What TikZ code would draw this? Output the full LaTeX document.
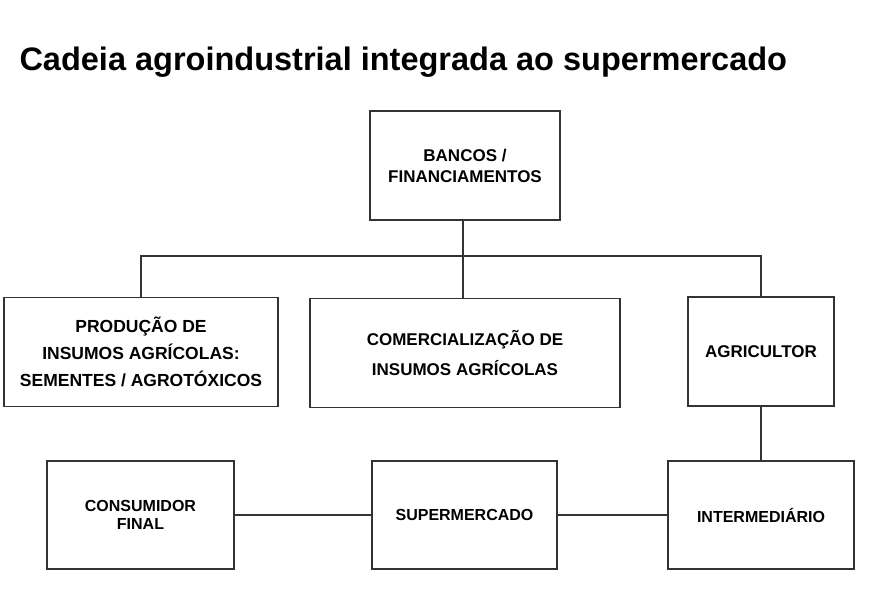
\documentclass[tikz,border=0pt]{standalone}
\usepackage{fontspec}
\setmainfont{Liberation Sans}
\begin{document}
\begin{tikzpicture}[x=1pt,y=-1pt,
  box/.style={draw=black!80,line width=1.3pt,align=center,font=\bfseries\fontsize{17}{21}\selectfont,inner sep=0pt},
  ln/.style={draw=black!80,line width=1.3pt}]
\useasboundingbox[fill=white] (0,0) rectangle (872,594);
\node[font=\bfseries\fontsize{32.5}{38}\selectfont,anchor=west] (t) at (16,62) {Cadeia agroindustrial integrada ao supermercado};
\node[box,minimum width=190pt,minimum height=109pt] (b) at (465,165.5) {BANCOS /\\FINANCIAMENTOS};
\node[box,font=\bfseries\fontsize{17.5}{27}\selectfont,minimum width=274pt,minimum height=109pt] (p) at (141,352) {PRODUÇÃO DE\\INSUMOS AGRÍCOLAS:\\SEMENTES / AGROTÓXICOS};
\node[box,font=\bfseries\fontsize{17}{30}\selectfont,minimum width=310pt,minimum height=109pt] (c) at (465,353) {COMERCIALIZAÇÃO DE\\INSUMOS AGRÍCOLAS};
\node[box,minimum width=146pt,minimum height=109pt] (a) at (761,351.5) {AGRICULTOR};
\node[box,font=\bfseries\fontsize{16}{18}\selectfont,minimum width=187pt,minimum height=108pt] (cf) at (140.5,515) {CONSUMIDOR\\FINAL};
\node[box,font=\bfseries\fontsize{16}{18}\selectfont,minimum width=185pt,minimum height=108pt] (s) at (464.5,515) {SUPERMERCADO};
\node[box,font=\bfseries\fontsize{16}{18}\selectfont,minimum width=186pt,minimum height=108pt] (i) at (761,515) {INTERMEDIÁRIO};
\coordinate (j) at (463,256);
\draw[ln] (b.south -| j) -- (j);
\draw[ln] (p.north) |- (j) -| (a.north);
\draw[ln] (j) -- (c.north -| j);
\draw[ln] (a.south) -- (i.north);
\draw[ln] (cf) -- (s);
\draw[ln] (s) -- (i);
\end{tikzpicture}
\end{document}
